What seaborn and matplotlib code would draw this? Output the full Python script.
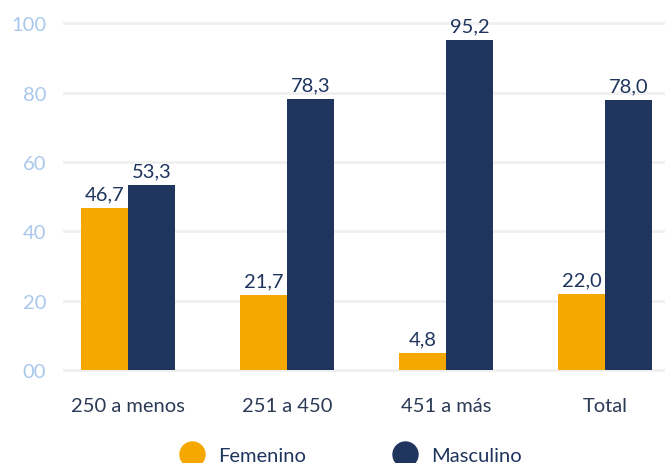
import matplotlib
matplotlib.use("Agg")
import matplotlib.pyplot as plt
from matplotlib.lines import Line2D
import seaborn as sns
import pandas as pd

# Data
categorias = ["250 a menos", "251 a 450", "451 a más", "Total"]
femenino = [46.7, 21.7, 4.8, 22.0]
masculino = [53.3, 78.3, 95.2, 78.0]
series = ["Femenino", "Masculino"]
yticks = [0, 20, 40, 60, 80, 100]
ytick_labels = ["00", "20", "40", "60", "80", "100"]

colores = {"Femenino": "#F5A800", "Masculino": "#1F355E"}
texto_oscuro = "#1F355E"
texto_eje = "#A9C8EC"

df = pd.DataFrame({
    "categoria": categorias * 2,
    "sexo": ["Femenino"] * len(categorias) + ["Masculino"] * len(categorias),
    "valor": femenino + masculino,
})

sns.set_theme(style="white")
plt.rcParams["font.family"] = ["Lato", "DejaVu Sans"]

fig = plt.figure(figsize=(6.65, 4.64), dpi=100)
ax = fig.add_axes([63 / 665, 0.1929, 1 - 63 / 665, 0.9547 - 0.1929])

sns.barplot(data=df, x="categoria", y="valor", hue="sexo", order=categorias,
            hue_order=series, palette=colores, width=0.59, gap=0,
            linewidth=0, saturation=1, legend=False, ax=ax)

for cont in ax.containers:
    etiquetas = [f"{b.get_height():.1f}".replace(".", ",") for b in cont]
    ax.bar_label(cont, labels=etiquetas, padding=4, fontsize=14.5,
                 color=texto_oscuro, clip_on=False)

ax.set_ylim(-1, 101)
ax.set_xlim(-0.409, 3.377)
ax.set_yticks(yticks)
ax.set_yticklabels(ytick_labels)
ax.yaxis.grid(True, color="#F0F0F0", linewidth=2)
ax.set_axisbelow(True)
ax.tick_params(axis="y", length=0, pad=12, labelsize=14.5, labelcolor=texto_eje)
ax.tick_params(axis="x", length=0, pad=17, labelsize=14.5, labelcolor="#2B3A55")
ax.set_xlabel("")
ax.set_ylabel("")
for s in ax.spines.values():
    s.set_visible(False)

handles = [Line2D([], [], marker="o", linestyle="", markersize=19,
                  markerfacecolor=colores[s], markeredgewidth=0) for s in series]
fig.legend(handles, series, loc="center", bbox_to_anchor=(0.528, 8 / 464),
           ncol=2, frameon=False, fontsize=14.5, labelcolor=texto_oscuro,
           columnspacing=4.3, handletextpad=0.7, handlelength=1.2)

fig.savefig("out.png", dpi=100)
